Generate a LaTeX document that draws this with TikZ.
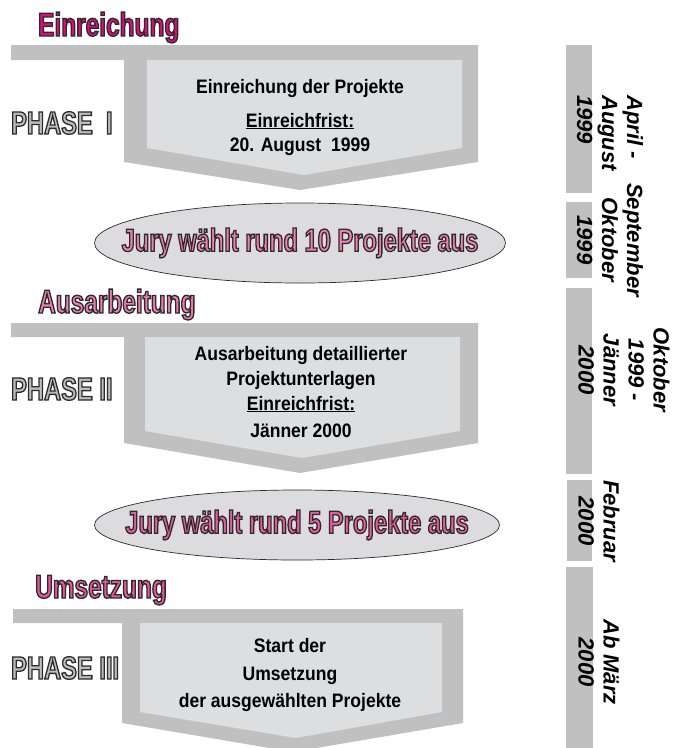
\documentclass[tikz,border=0pt]{standalone}
\usepackage{fontspec}
\setmainfont{Liberation Sans}
\newfontfamily\dispfont[FakeStretch=0.74,FakeBold=4]{Liberation Sans}
\newfontfamily\boxfont[FakeStretch=0.9]{Liberation Sans}
\usetikzlibrary{shapes.geometric,positioning}
\definecolor{barGray}{HTML}{C0C0C0}
\definecolor{boxGray}{HTML}{DDDEE0}
\definecolor{ovalGray}{HTML}{DCDCDE}
\definecolor{lineDark}{HTML}{2B2B2B}
\definecolor{phaseGray}{HTML}{BDBDBD}
\definecolor{einPink}{HTML}{E5097F}
\definecolor{ausPink}{HTML}{F07CB4}
\definecolor{umsPink}{HTML}{E9559C}
\definecolor{juryPinkA}{HTML}{F27DB5}
\definecolor{juryPinkB}{HTML}{E95A9E}
% dark stroke round the filled letters (fake bold draws fill + stroke)
\newcommand{\outl}[1]{\special{pdf:literal direct 0.17 0.17 0.17 RG}#1}

\begin{document}
\begin{tikzpicture}[
  x=1pt,y=-1pt,
  outer/.style={fill=barGray},
  inner/.style={fill=boxGray},
  datebar/.style={fill=barGray},
  oval/.style={ellipse,draw=lineDark,line width=0.7pt,fill=ovalGray,inner sep=0pt},
  head/.style={anchor=base west,inner sep=0pt,
               font=\dispfont\bfseries\fontsize{33}{35}\selectfont},
  phase/.style={anchor=base west,inner sep=0pt,text=phaseGray,
                font=\dispfont\bfseries\fontsize{32}{34}\selectfont},
  jurytxt/.style={inner sep=0pt,font=\dispfont\bfseries\fontsize{32}{34}\selectfont},
  boxtxt/.style={anchor=base,inner sep=0pt,font=\boxfont\bfseries\fontsize{19.5}{22}\selectfont},
  datetxt/.style={rotate=-90,align=center,inner sep=0pt,
                  font=\bfseries\itshape\fontsize{22}{25}\selectfont}
]
\useasboundingbox (0,0) rectangle (673,748);

% phase blocks
\fill[outer] (11,45) -- (478,45) -- (478,162) -- (300,190) -- (124,162) -- (124,60) -- (11,60) -- cycle;
\fill[inner] (147,60) -- (462,60) -- (462,148) -- (304,175) -- (147,148) -- cycle;

\fill[outer] (11,323) -- (478,323) -- (478,443) -- (300,473) -- (124,443) -- (124,337) -- (11,337) -- cycle;
\fill[inner] (145,337) -- (460,337) -- (460,431) -- (302,458) -- (145,431) -- cycle;

\fill[outer] (13,609) -- (463,609) -- (463,723) -- (293,752) -- (122,723) -- (122,623) -- (13,623) -- cycle;
\fill[inner] (140,623) -- (442,623) -- (442,712) -- (296,738) -- (140,712) -- cycle;

% headings and phase labels
\node[head,text=einPink] (ein)  at (38,36)  {\outl{Einreichung}};
\node[head,text=ausPink] (aus)  at (38,313) {\outl{Ausarbeitung}};
\node[head,text=umsPink] (ums)  at (35,598) {\outl{Umsetzung}};
\node[phase] (ph1) at (11,134) {\outl{PHASE\ \ I}};
\node[phase] (ph2) at (11,400) {\outl{PHASE II}};
\node[phase] (ph3) at (11,679) {\outl{PHASE III}};

% box texts
\node[boxtxt] (t1a) at (300,93)  {Einreichung der Projekte};
\node[boxtxt] (t1b) at (300,127) {\underline{Einreichfrist:}};
\node[boxtxt] (t1c) at (300,151) {20. August\ \ 1999};

\node[boxtxt] (t2a) at (301,360) {Ausarbeitung detaillierter};
\node[boxtxt] (t2b) at (301,385) {Projektunterlagen};
\node[boxtxt] (t2c) at (301,410) {\underline{Einreichfrist:}};
\node[boxtxt] (t2d) at (301,437) {Jänner 2000};

\node[boxtxt] (t3a) at (290,652) {Start der};
\node[boxtxt] (t3b) at (290,680) {Umsetzung};
\node[boxtxt] (t3c) at (290,707) {der ausgewählten Projekte};

% jury ovals
\node[oval,minimum width=411,minimum height=80] (jury1) at (300,243) {};
\node[jurytxt,text=juryPinkA] (jury1t) at (jury1) {\outl{Jury wählt rund 10 Projekte aus}};
\node[oval,minimum width=405,minimum height=70] (jury2) at (297,525) {};
\node[jurytxt,text=juryPinkB] (jury2t) at (jury2) {\outl{Jury wählt rund 5 Projekte aus}};

% time column
\fill[datebar] (566,45)  rectangle (592,193);
\fill[datebar] (566,202) rectangle (592,278);
\fill[datebar] (566,288) rectangle (592,474);
\fill[datebar] (567,480) rectangle (592,561);
\fill[datebar] (566,567) rectangle (593,748);

\node[datetxt,align=left,anchor=west] (d1) at (610,95) {April -\\August\\1999};
\node[datetxt] (d2) at (610,240) {September\\Oktober\\1999};
\node[datetxt] (d3) at (624,370) {Oktober\\1999 -\\Jänner\\2000};
\node[datetxt] (d4) at (599,521) {Februar\\2000};
\node[datetxt] (d5) at (599,662) {Ab März\\2000};
\end{tikzpicture}
\end{document}
